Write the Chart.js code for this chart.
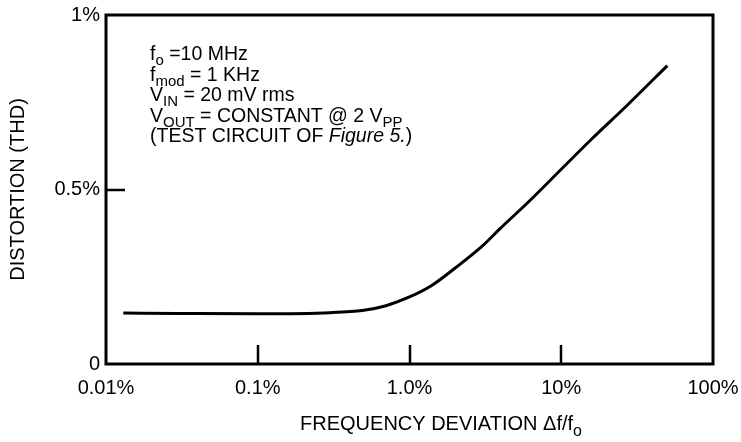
<!DOCTYPE html>
<html>
<head>
<meta charset="utf-8">
<script src="https://cdn.jsdelivr.net/npm/chart.js@4.4.1/dist/chart.umd.min.js"></script>
<style>
  html, body { margin: 0; padding: 0; background: #fff; }
  #wrap { width: 741px; height: 442px; }
</style>
</head>
<body>
<div id="wrap"><canvas id="thdChart" width="741" height="442"></canvas></div>
<script>
// =============================
// DATA
// =============================

const deviation = [0.013, 0.03, 0.1, 0.3, 0.5, 0.7, 1.0, 1.4, 2.0, 3.0, 4.0, 6.0, 10, 16, 27, 50];
const distortion = [0.146, 0.145, 0.144, 0.147, 0.154, 0.167, 0.192, 0.225, 0.275, 0.337, 0.39, 0.462, 0.558, 0.646, 0.74, 0.855];

const xTicks = [0.01, 0.1, 1, 10, 100];
const xTickLabels = ["0.01%", "0.1%", "1.0%", "10%", "100%"];
const yTicks = [0, 0.5, 1];
const yTickLabels = ["0", "0.5%", "1%"];

const FONT = "'Liberation Sans', Arial, Helvetica, sans-serif";


// =============================
// TEXT HELPERS
// =============================

// draws a line made of parts: { t, sub, italic }
function drawParts(ctx, x, y, parts, size) {
    let cx = x;
    parts.forEach(p => {
        const s = p.sub ? Math.round(size * 0.78) : size;
        ctx.font = (p.italic ? "italic " : "") + s + "px " + FONT;
        const dy = p.sub ? size * 0.28 : 0;
        ctx.fillText(p.t, cx, y + dy);
        cx += ctx.measureText(p.t).width;
    });
    return cx - x;
}

function partsWidth(ctx, parts, size) {
    let w = 0;
    parts.forEach(p => {
        const s = p.sub ? Math.round(size * 0.78) : size;
        ctx.font = (p.italic ? "italic " : "") + s + "px " + FONT;
        w += ctx.measureText(p.t).width;
    });
    return w;
}

const noteLines = [
    [{ t: "f" }, { t: "o", sub: true }, { t: " =10 MHz" }],
    [{ t: "f" }, { t: "mod", sub: true }, { t: " = 1 KHz" }],
    [{ t: "V" }, { t: "IN", sub: true }, { t: " = 20 mV rms" }],
    [{ t: "V" }, { t: "OUT", sub: true }, { t: " = CONSTANT @ 2 V" }, { t: "PP", sub: true }],
    [{ t: "(TEST CIRCUIT OF " }, { t: "Figure 5.", italic: true }, { t: ")" }]
];

const xTitle = [{ t: "FREQUENCY DEVIATION \u0394f/f" }, { t: "o", sub: true }];


// =============================
// FRAME, INNER TICKS, TEXT
// =============================

const framePlugin = {
    id: "frame",
    afterDraw(chart) {
        const ctx = chart.ctx;
        const a = chart.chartArea;
        const xs = chart.scales.x;
        const ys = chart.scales.y;

        ctx.save();
        ctx.strokeStyle = "#000";
        ctx.lineWidth = 3;
        ctx.strokeRect(a.left, a.top, a.right - a.left, a.bottom - a.top);

        // ticks pointing into the plot
        ctx.lineWidth = 2.5;
        xTicks.slice(1, -1).forEach(v => {
            const px = Math.round(xs.getPixelForValue(v));
            ctx.beginPath();
            ctx.moveTo(px, a.bottom);
            ctx.lineTo(px, a.bottom - 19);
            ctx.stroke();
        });
        yTicks.slice(1, -1).forEach(v => {
            const py = Math.round(ys.getPixelForValue(v));
            ctx.beginPath();
            ctx.moveTo(a.left, py);
            ctx.lineTo(a.left + 19, py);
            ctx.stroke();
        });

        // notes
        ctx.fillStyle = "#000";
        ctx.textBaseline = "alphabetic";
        ctx.textAlign = "left";
        noteLines.forEach((line, i) => {
            drawParts(ctx, 150, 60 + i * 20.5, line, 19.5);
        });

        // x axis title
        const w = partsWidth(ctx, xTitle, 20);
        drawParts(ctx, 441 - w / 2, 430, xTitle, 20);

        ctx.restore();
    }
};


// =============================
// CHART
// =============================

new Chart(document.getElementById("thdChart"), {
    type: "line",
    data: {
        datasets: [
            {
                data: deviation.map((d, i) => ({ x: d, y: distortion[i] })),
                borderColor: "#000",
                borderWidth: 3,
                pointRadius: 0,
                cubicInterpolationMode: "monotone",
                fill: false
            }
        ]
    },
    options: {
        responsive: false,
        animation: false,
        layout: { padding: { left: 0, right: 28, top: 15, bottom: 0 } },
        plugins: {
            legend: { display: false },
            tooltip: { enabled: false }
        },
        scales: {
            x: {
                type: "logarithmic",
                min: 0.01,
                max: 100,
                afterBuildTicks: scale => {
                    scale.ticks = xTicks.map(v => ({ value: v }));
                },
                afterFit: scale => {
                    scale.height = 78;
                    scale.paddingLeft = 0;
                    scale.paddingRight = 0;
                },
                grid: { display: false, drawTicks: false },
                border: { display: false },
                ticks: {
                    autoSkip: false,
                    maxRotation: 0,
                    padding: 12,
                    color: "#000",
                    font: { family: FONT, size: 20 },
                    callback: (v, i) => xTickLabels[i]
                }
            },
            y: {
                min: 0,
                max: 1,
                afterBuildTicks: scale => {
                    scale.ticks = yTicks.map(v => ({ value: v }));
                },
                afterFit: scale => {
                    scale.width = 106;
                    scale.paddingTop = 0;
                    scale.paddingBottom = 0;
                },
                grid: { display: false, drawTicks: false },
                border: { display: false },
                ticks: {
                    padding: 6,
                    color: "#000",
                    font: { family: FONT, size: 20 },
                    callback: (v, i) => yTickLabels[i]
                },
                title: {
                    display: true,
                    text: "DISTORTION (THD)",
                    color: "#000",
                    font: { family: FONT, size: 20 },
                    padding: { top: 6, bottom: 0 }
                }
            }
        }
    },
    plugins: [framePlugin]
});
</script>
</body>
</html>
